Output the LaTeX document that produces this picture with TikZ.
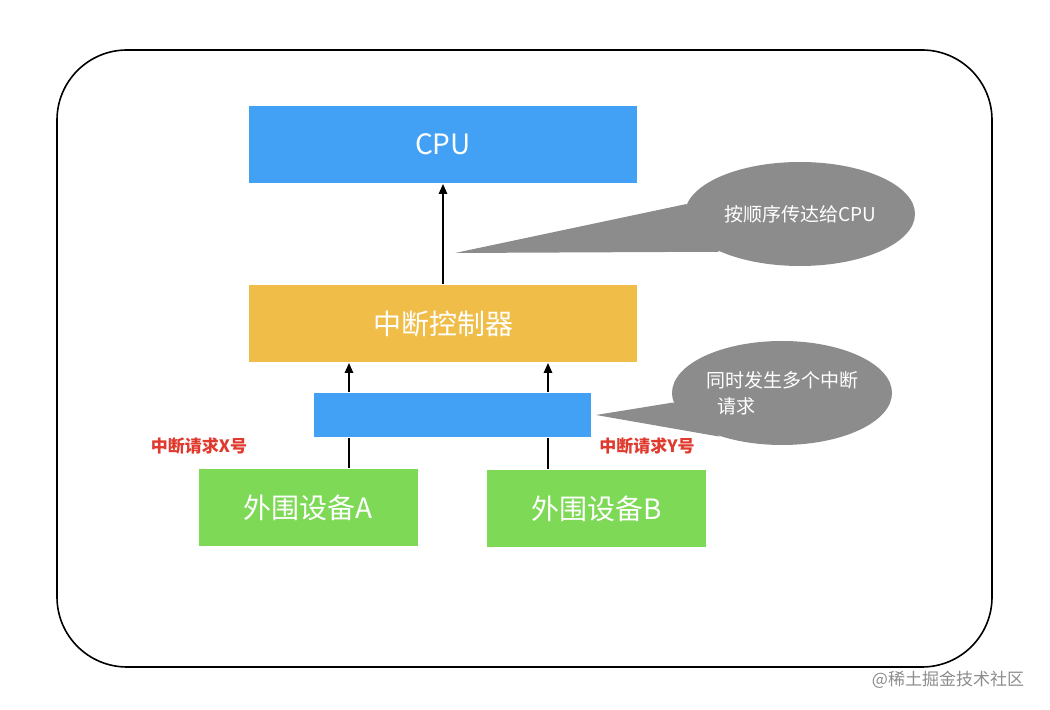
\documentclass[tikz,border=0pt]{standalone}
\usepackage{fontspec}
\setmainfont{Noto Sans CJK SC}
\usepackage{tikz}
\usetikzlibrary{positioning,shapes.geometric,arrows.meta}
\definecolor{cpublue}{HTML}{42A1F5}
\definecolor{ctrlyellow}{HTML}{F0BD48}
\definecolor{devgreen}{HTML}{7ED957}
\definecolor{bubblegray}{HTML}{8C8C8C}
\definecolor{reqred}{HTML}{E03A2F}

\begin{document}
\begin{tikzpicture}
                    [x=0.5pt,y=-0.5pt,
                    box/.style={rectangle, inner sep=0pt,
                        text=white, font=\fontsize{14}{16}\selectfont},
                    dev/.style={box, fill=devgreen,
                        minimum width=109.5pt, minimum height=38.5pt},
                    bubble/.style={ellipse, fill=bubblegray, text=white,
                        inner sep=0pt, align=center,
                        font=\fontsize{9.5}{13}\selectfont},
                    req/.style={text=reqred, font=\bfseries\fontsize{8.5}{10}\selectfont},
                    arr/.style={-{Triangle[length=5pt,width=4pt]}, line width=1.2pt},
                    thick]

                    \useasboundingbox (0,0) rectangle (1050,710);
                    \draw[line width=0.8pt, rounded corners=35pt] (57,50) rectangle (992,667);

                    \node[box, fill=cpublue, minimum width=194pt, minimum height=38.5pt] at (443,144.5)
                        (cpu) {CPU};
                    \node[box, fill=ctrlyellow, minimum width=194pt, minimum height=38.5pt] at (443,323.5)
                        (ctrl) {中断控制器};
                    \node[box, fill=cpublue, minimum width=138.5pt, minimum height=22pt] at (452.5,415)
                        (bus) {};
                    \node[dev] at (308.5,507.5)
                        (devA) {外围设备A};
                    \node[dev] at (596.5,508.5)
                        (devB) {外围设备B};

                    \draw[arr] (ctrl.north) -- (cpu.south);
                    \draw[arr] (bus.north -| 349,0) -- (ctrl.south -| 349,0);
                    \draw[arr] (bus.north -| 548,0) -- (ctrl.south -| 548,0);
                    \draw[line width=1.2pt] (devA.north -| 349,0) -- (bus.south -| 349,0);
                    \draw[line width=1.2pt] (devB.north -| 548,0) -- (bus.south -| 548,0);

                    \node[req] at (199,446) (reqX) {中断请求X号};
                    \node[req] at (647,446) (reqY) {中断请求Y号};

                    % callouts
                    \node[bubble, minimum width=115pt, minimum height=52pt] at (800,214)
                        (say) {按顺序传达给CPU};
                    \coordinate (sayTip) at (455,253);
                    \fill[bubblegray] (sayTip) -- (say.175) -- (say.205) -- cycle;
                    \node[bubble, minimum width=110pt, minimum height=52pt] at (782,393)
                        (both) {同时发生多个中断\\请求\hspace*{4.8em}};
                    \coordinate (bothTip) at (596,415);
                    \fill[bubblegray] (bothTip) -- (both.185) -- (both.215) -- cycle;

                    \node[text=black!45, font=\fontsize{8.5}{10}\selectfont] at (948,680)
                        (mark) {@稀土掘金技术社区};
                \end{tikzpicture}
\end{document}
